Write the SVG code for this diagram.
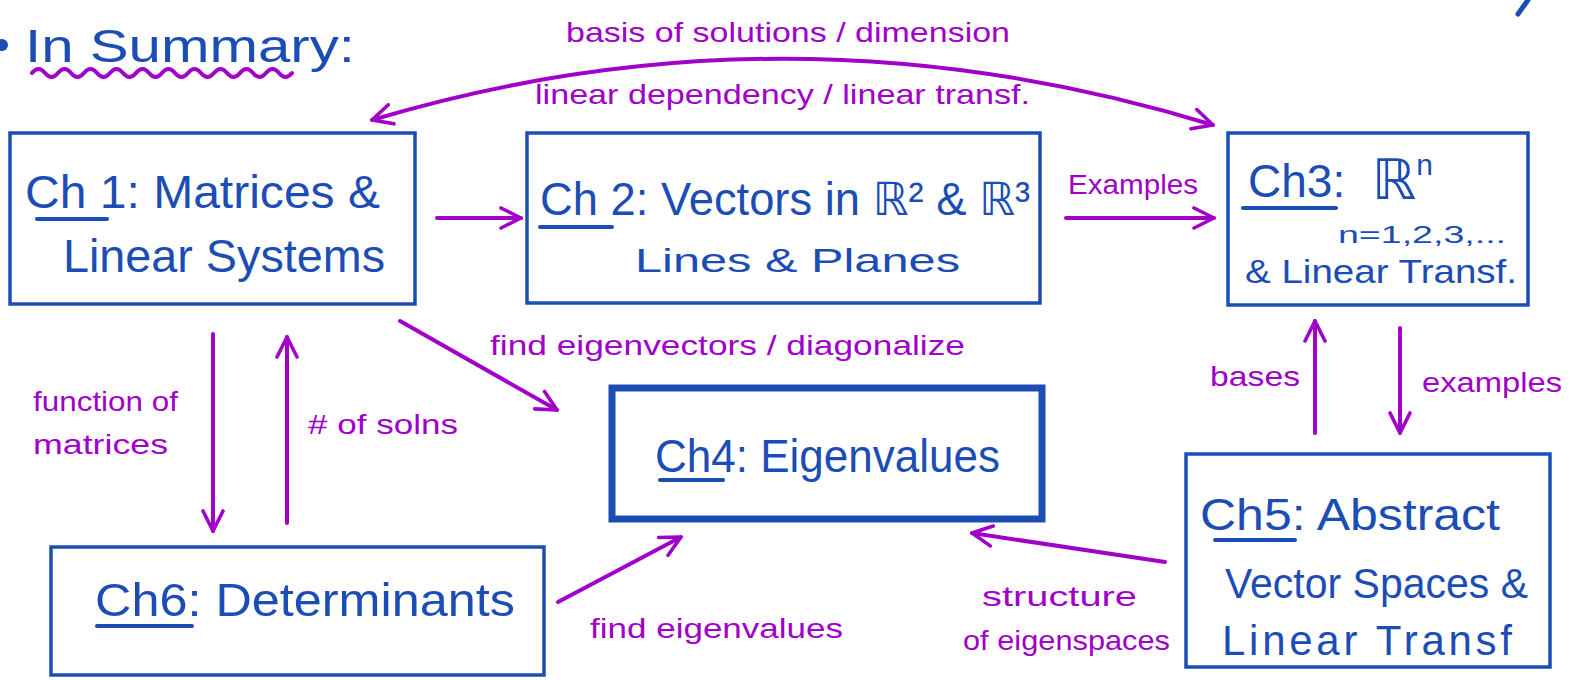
<svg xmlns="http://www.w3.org/2000/svg" width="1572" height="680" viewBox="0 0 1572 680">
<defs>
<style>
.box{fill:none;stroke:#1b4db5;stroke-width:3.5;}
.bt{fill:#1b4db5;font-family:"Liberation Sans","DejaVu Sans",sans-serif;}
.ul{stroke:#1b4db5;stroke-width:4;stroke-linecap:round;fill:none;}
.pt{fill:#a000c8;font-family:"Liberation Sans","DejaVu Sans",sans-serif;font-size:28px;}
.ar{stroke:#a000c8;stroke-width:4;fill:none;stroke-linecap:round;}
</style>
<marker id="ah" viewBox="0 0 12 12" refX="11" refY="6" markerWidth="24" markerHeight="24" markerUnits="userSpaceOnUse" orient="auto-start-reverse">
<path d="M1,1 L11,6 L1,11" fill="none" stroke="#a000c8" stroke-width="1.8" stroke-linecap="round" stroke-linejoin="round"/>
</marker>
</defs>
<rect width="1572" height="680" fill="#fff"/>

<g id="title">
<circle cx="2" cy="45" r="6" fill="#1b4db5"/>
<text class="bt" x="25" y="62" font-size="46" textLength="330" lengthAdjust="spacingAndGlyphs">In Summary:</text>
<path d="M32,73 q6.5,-8 13,0 t13,0 t13,0 t13,0 t13,0 t13,0 t13,0 t13,0 t13,0 t13,0 t13,0 t13,0 t13,0 t13,0 t13,0 t13,0 t13,0 t13,0 t13,0 t13,0" fill="none" stroke="#a000c8" stroke-width="4" stroke-linecap="round"/>
<path d="M1518,14 L1528,0" stroke="#1b4db5" stroke-width="5" stroke-linecap="round"/>
</g>

<g id="ch1">
<rect class="box" x="10" y="133" width="405" height="171"/>
<text class="bt" x="25" y="208" font-size="46" textLength="355" lengthAdjust="spacingAndGlyphs">Ch 1: Matrices &amp;</text>
<line class="ul" x1="37" y1="219" x2="107" y2="219"/>
<text class="bt" x="63" y="272" font-size="46" textLength="322" lengthAdjust="spacingAndGlyphs">Linear Systems</text>
</g>

<g id="ch2">
<rect class="box" x="527" y="133" width="513" height="170"/>
<text class="bt" x="540" y="215" font-size="46" textLength="490" lengthAdjust="spacingAndGlyphs">Ch 2: Vectors in ℝ² &amp; ℝ³</text>
<line class="ul" x1="540" y1="227" x2="612" y2="227"/>
<text class="bt" x="635" y="272" font-size="34" textLength="325" lengthAdjust="spacingAndGlyphs">Lines  &amp;  Planes</text>
</g>

<g id="ch3">
<rect class="box" x="1228" y="133" width="300" height="172"/>
<text class="bt" x="1248" y="197" font-size="46">Ch3:</text>
<text class="bt" x="1372" y="199" font-size="56">ℝ<tspan font-size="30" dy="-24">n</tspan></text>
<line class="ul" x1="1243" y1="208" x2="1336" y2="208"/>
<text class="bt" x="1338" y="243" font-size="24" textLength="168" lengthAdjust="spacingAndGlyphs">n=1,2,3,...</text>
<text class="bt" x="1245" y="283" font-size="34" textLength="272" lengthAdjust="spacingAndGlyphs">&amp; Linear Transf.</text>
</g>

<g id="ch4">
<rect x="612" y="388" width="430" height="131" fill="none" stroke="#1b4db5" stroke-width="7"/>
<text class="bt" x="655" y="472" font-size="46" textLength="345" lengthAdjust="spacingAndGlyphs">Ch4: Eigenvalues</text>
<line class="ul" x1="660" y1="480" x2="723" y2="480"/>
</g>

<g id="ch5">
<rect class="box" x="1186" y="454" width="364" height="213"/>
<text class="bt" x="1200" y="530" font-size="44" textLength="300" lengthAdjust="spacingAndGlyphs">Ch5: Abstract</text>
<line class="ul" x1="1215" y1="540" x2="1295" y2="540"/>
<text class="bt" x="1225" y="598" font-size="42" textLength="303" lengthAdjust="spacingAndGlyphs">Vector Spaces &amp;</text>
<text class="bt" x="1222" y="655" font-size="42" textLength="290" lengthAdjust="spacing">Linear Transf</text>
</g>

<g id="ch6">
<rect class="box" x="51" y="547" width="493" height="128"/>
<text class="bt" x="95" y="616" font-size="46" textLength="420" lengthAdjust="spacingAndGlyphs">Ch6: Determinants</text>
<line class="ul" x1="97" y1="626" x2="192" y2="626"/>
</g>

<g id="connectors">
<path class="ar" d="M372,120 Q790,-5 1213,125" marker-start="url(#ah)" marker-end="url(#ah)"/>
<line class="ar" x1="437" y1="218" x2="521" y2="218" marker-end="url(#ah)"/>
<line class="ar" x1="1066" y1="218" x2="1214" y2="218" marker-end="url(#ah)"/>
<line class="ar" x1="400" y1="321" x2="557" y2="410" marker-end="url(#ah)"/>
<line class="ar" x1="213" y1="334" x2="213" y2="531" marker-end="url(#ah)"/>
<line class="ar" x1="287" y1="523" x2="287" y2="337" marker-end="url(#ah)"/>
<line class="ar" x1="558" y1="602" x2="681" y2="537" marker-end="url(#ah)"/>
<line class="ar" x1="1165" y1="562" x2="972" y2="533" marker-end="url(#ah)"/>
<line class="ar" x1="1315" y1="433" x2="1315" y2="321" marker-end="url(#ah)"/>
<line class="ar" x1="1400" y1="328" x2="1400" y2="433" marker-end="url(#ah)"/>
<text class="pt" x="566" y="42" textLength="444" lengthAdjust="spacingAndGlyphs">basis of solutions / dimension</text>
<text class="pt" x="535" y="104" textLength="495" lengthAdjust="spacingAndGlyphs">linear dependency / linear transf.</text>
<text class="pt" x="1068" y="194" textLength="130" lengthAdjust="spacingAndGlyphs">Examples</text>
<text class="pt" x="490" y="355" textLength="475" lengthAdjust="spacingAndGlyphs">find eigenvectors / diagonalize</text>
<text class="pt" x="33" y="411" textLength="145" lengthAdjust="spacingAndGlyphs">function of</text>
<text class="pt" x="33" y="454" textLength="135" lengthAdjust="spacingAndGlyphs">matrices</text>
<text class="pt" x="308" y="434" textLength="150" lengthAdjust="spacingAndGlyphs"># of solns</text>
<text class="pt" x="590" y="638" textLength="253" lengthAdjust="spacingAndGlyphs">find eigenvalues</text>
<text class="pt" x="982" y="606" textLength="155" lengthAdjust="spacingAndGlyphs">structure</text>
<text class="pt" x="963" y="650" textLength="207" lengthAdjust="spacingAndGlyphs">of eigenspaces</text>
<text class="pt" x="1210" y="386" textLength="90" lengthAdjust="spacingAndGlyphs">bases</text>
<text class="pt" x="1422" y="392" textLength="140" lengthAdjust="spacingAndGlyphs">examples</text>
</g>
</svg>
